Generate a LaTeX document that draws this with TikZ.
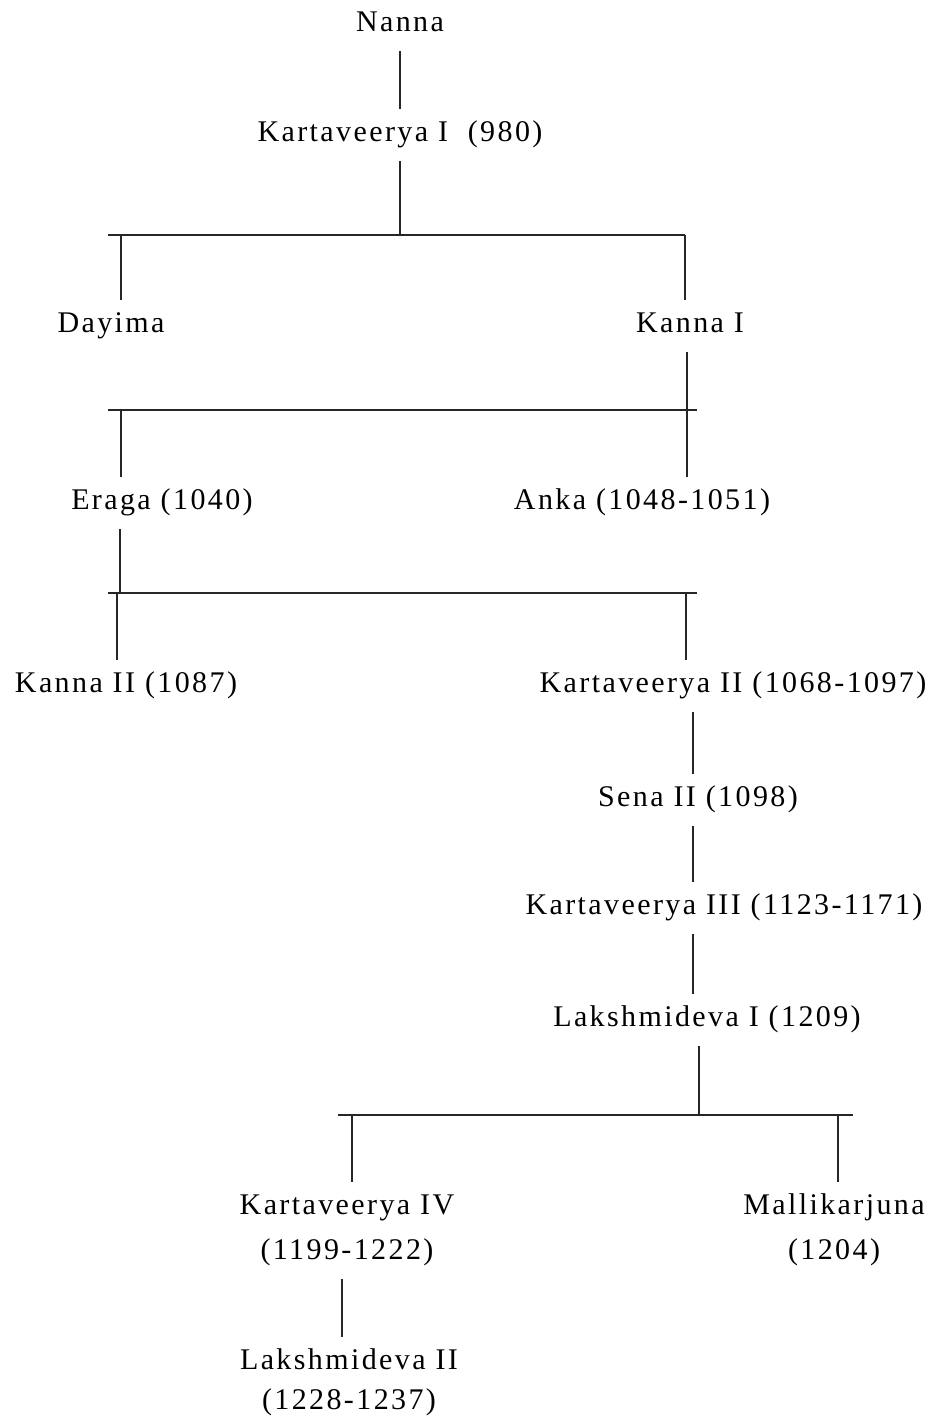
\documentclass[tikz,border=0pt]{standalone}
\usepackage{fontspec}
\setmainfont[LetterSpace=8]{Liberation Serif}
\begin{document}
\begin{tikzpicture}[x=1pt,y=-1pt,
  person/.style={font=\fontsize{30}{45}\selectfont, text height=21pt, text depth=7.5pt,
    inner sep=4pt, outer sep=8pt, align=center},
  link/.style={line width=1.1pt, draw=black!85}]
\useasboundingbox (0,0) rectangle (935,1416);
% people
\node[person] (nanna)  at (400,25)  {Nanna};
\node[person] (k1)     at (400,135) {Kartaveerya I\ \ (980)};
\node[person] (dayima) at (111,326) {Dayima};
\node[person] (kanna1) at (690,326) {Kanna I};
\node[person] (eraga)  at (162,503) {Eraga (1040)};
\node[person] (anka)   at (642,503) {Anka (1048-1051)};
\node[person] (kanna2) at (126,686) {Kanna II (1087)};
\node[person] (k2)     at (733,686) {Kartaveerya II (1068-1097)};
\node[person] (sena)   at (698,800) {Sena II (1098)};
\node[person] (k3)     at (724,908) {Kartaveerya III (1123-1171)};
\node[person] (lak1)   at (707,1020) {Lakshmideva I (1209)};
\node[person, text height=66pt] (k4) at (347,1230.5) {Kartaveerya IV\\(1199-1222)};
\node[person, text height=66pt] (malli) at (834,1230.5) {Mallikarjuna\\(1204)};
\node[person, text height=61pt] (lak2) at (349,1383) {Lakshmideva II\\[-5pt](1228-1237)};
% bar coordinates
\coordinate (b1l) at (108,235); \coordinate (b1r) at (685,235); \coordinate (b1m) at (400,235);
\coordinate (b1a) at (121,235); \coordinate (b1b) at (685,235);
\coordinate (b2l) at (108,410); \coordinate (b2r) at (697,410);
\coordinate (b2a) at (121,410); \coordinate (b2b) at (687,410);
\coordinate (b3l) at (108,593); \coordinate (b3r) at (697,593);
\coordinate (b3m) at (120,593);
\coordinate (b3a) at (117,593); \coordinate (b3b) at (686,593);
\coordinate (b4l) at (338,1115); \coordinate (b4r) at (853,1115);
\coordinate (b4m) at (699,1115);
\coordinate (b4a) at (352,1115); \coordinate (b4b) at (838,1115);
% connectors
\draw[link] (nanna.south) -- (k1.north);
\draw[link] (k1.south) -- (b1m);
\draw[link] (b1l) -- (b1r);
\draw[link] (b1a) -- (dayima.north -| b1a);
\draw[link] (b1b) -- (kanna1.north -| b1b);
\draw[link] (kanna1.south -| b2b) -- (b2b);
\draw[link] (b2l) -- (b2r);
\draw[link] (b2a) -- (eraga.north -| b2a);
\draw[link] (b2b) -- (anka.north -| b2b);
\draw[link] (eraga.south -| b3m) -- (b3m);
\draw[link] (b3l) -- (b3r);
\draw[link] (b3a) -- (kanna2.north -| b3a);
\draw[link] (b3b) -- (k2.north -| b3b);
\draw[link] ([xshift=-40pt]k2.south) -- ([xshift=-5pt]sena.north);
\draw[link] ([xshift=-5pt]sena.south) -- ([xshift=-31pt]k3.north);
\draw[link] ([xshift=-31pt]k3.south) -- ([xshift=-14pt]lak1.north);
\draw[link] (lak1.south -| b4m) -- (b4m);
\draw[link] (b4l) -- (b4r);
\draw[link] (b4a) -- (k4.north -| b4a);
\draw[link] (b4b) -- (malli.north -| b4b);
\draw[link] ([xshift=-5pt]k4.south) -- ([xshift=-7pt]lak2.north);
\end{tikzpicture}
\end{document}
